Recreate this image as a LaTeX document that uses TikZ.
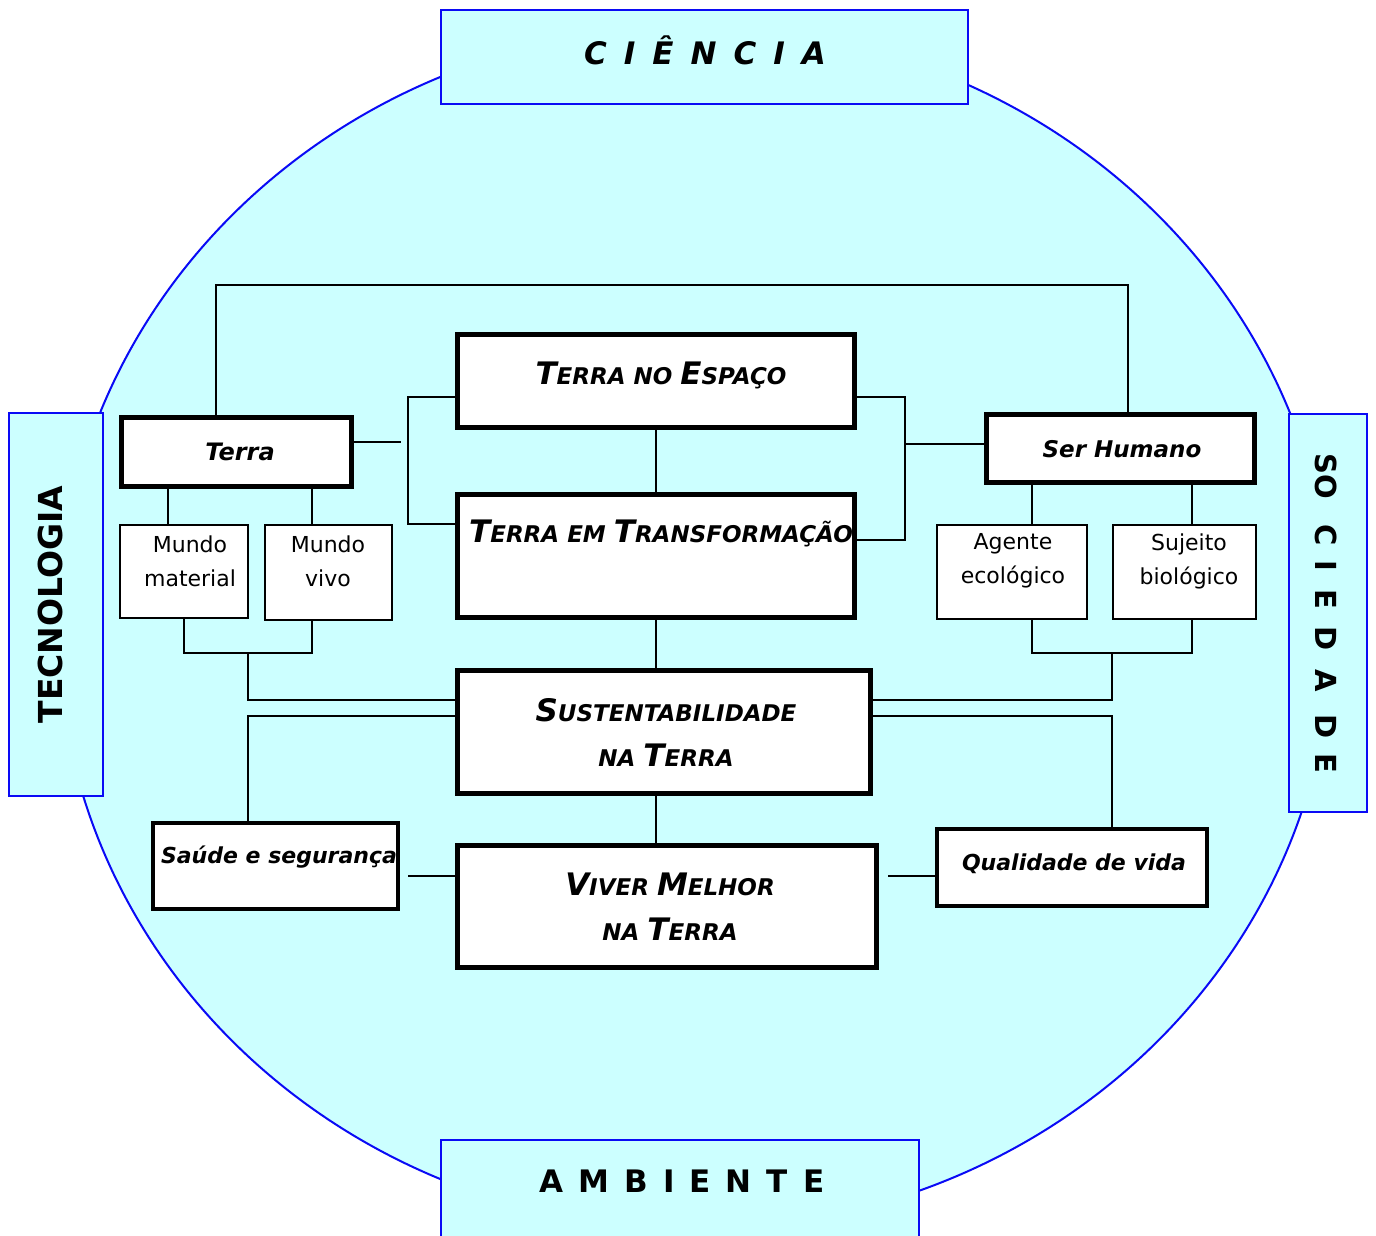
\documentclass[tikz,border=0pt]{standalone}
\usepackage{fontspec}
\setmainfont{DejaVu Sans}[BoldFont={DejaVu Sans Bold},ItalicFont={DejaVu Sans Oblique},BoldItalicFont={DejaVu Sans Bold Oblique}]
\definecolor{cyanfill}{RGB}{204,255,255}
\definecolor{bordblue}{RGB}{10,10,245}
\newcommand\BL[1]{{\fontsize{31pt}{36pt}\selectfont #1}}
\newcommand\SL[1]{{\fontsize{23pt}{26pt}\selectfont #1}}
\newcommand\gp[1]{\hspace{#1}}
\begin{document}
\begin{tikzpicture}[x=1pt,y=-1pt,
  halo/.style={draw=bordblue, fill=cyanfill, line width=2pt, inner sep=0pt},
  heavy/.style={draw=black, fill=white, line width=5pt, inner sep=0pt},
  light/.style={draw=black, fill=white, line width=1.8pt, inner sep=0pt},
  link/.style={draw=black, line width=1.6pt},
  txt/.style={inner sep=0pt, align=center},
  bi/.style={txt, font=\bfseries\itshape},
  bigt/.style={txt, font=\bfseries},
]
\useasboundingbox (0,0) rectangle (1376,1235);
% big circle
\draw[draw=bordblue, fill=cyanfill, line width=2pt] (695,628) ellipse [x radius=637pt, y radius=601pt];

% outer label boxes
\node[halo, minimum width=527pt, minimum height=94pt] (cien) at (704.5,57) {};
\node[halo, minimum width=478pt, minimum height=100pt] (ambi) at (680,1190) {};
\node[halo, minimum width=94pt, minimum height=383pt] (tecn) at (56,604.5) {};
\node[halo, minimum width=78pt, minimum height=398pt] (soci) at (1328,613) {};
\node[bigt, font=\bfseries\itshape\fontsize{31pt}{36pt}\selectfont] (cient) at (705,50)
  {C\gp{17pt}I\gp{17pt}Ê\gp{17pt}N\gp{17pt}C\gp{17pt}I\gp{17pt}A};
\node[bigt, font=\bfseries\fontsize{31pt}{36pt}\selectfont] (ambit) at (682,1181)
  {A\gp{15pt}M\gp{15pt}B\gp{15pt}I\gp{15pt}E\gp{15pt}N\gp{15pt}T\gp{15pt}E};
\node[bigt, font=\bfseries\fontsize{33pt}{36pt}\selectfont, rotate=90] (tecnt) at (50,604.5) {TECNOLOGIA};
\node[bigt, font=\bfseries\fontsize{29pt}{36pt}\selectfont, rotate=-90] (socit) at (1326,613.5)
  {SO\gp{25pt}C\gp{15pt}I\gp{18pt}E\gp{18pt}D\gp{18pt}A\gp{23pt}D\gp{15pt}E};

% coordinates
\coordinate (topL) at (216,285);
\coordinate (topR) at (1128,285);
\coordinate (tr) at (401,442);
\coordinate (lb1) at (408,397);
\coordinate (lb2) at (408,524);
\coordinate (rb1) at (905,397);
\coordinate (rb2) at (905,540);
\coordinate (rbm) at (905,444);
\coordinate (mL1) at (168,500);
\coordinate (mL2) at (312,500);
\coordinate (mR1) at (1032,500);
\coordinate (mR2) at (1192,500);
\coordinate (jL1) at (184,653);
\coordinate (jL2) at (312,653);
\coordinate (jLm) at (248,653);
\coordinate (jLa) at (248,700);
\coordinate (jLb) at (248,716);
\coordinate (jR1) at (1032,653);
\coordinate (jR2) at (1192,653);
\coordinate (jRm) at (1112,653);
\coordinate (jRa) at (1112,700);
\coordinate (jRb) at (1112,716);
\coordinate (sv) at (408,876);
\coordinate (qv) at (888,876);

% boxes
\node[heavy, minimum width=230pt, minimum height=69pt] (terra) at (236.5,452) {};
\node[heavy, minimum width=268pt, minimum height=68pt] (seru) at (1120.5,448.5) {};
\node[heavy, minimum width=397pt, minimum height=93pt] (tne) at (656,381) {};
\node[heavy, minimum width=397pt, minimum height=123pt] (tet) at (656,556) {};
\node[heavy, minimum width=413pt, minimum height=123pt] (sus) at (664,732) {};
\node[heavy, minimum width=419pt, minimum height=122pt] (viv) at (667,906.5) {};
\node[heavy, line width=4pt, minimum width=245pt, minimum height=86pt] (saud) at (275.5,866) {};
\node[heavy, line width=4pt, minimum width=270pt, minimum height=77pt] (qual) at (1072,867.5) {};
\node[light, minimum width=128pt, minimum height=93pt] (mmat) at (184,571.5) {};
\node[light, minimum width=127pt, minimum height=95pt] (mviv) at (328.5,572.5) {};
\node[light, minimum width=150pt, minimum height=94pt] (agen) at (1012,572) {};
\node[light, minimum width=143pt, minimum height=94pt] (suje) at (1184.5,572) {};

% lines
\draw[link] (terra.north -| topL) -- (topL) -- (topR) -- (seru.north -| topR);
\draw[link] (terra.east |- tr) -- (tr);
\draw[link] (tne.west |- lb1) -- (lb1) -- (lb2) -- (tet.west |- lb2);
\draw[link] (tne.east |- rb1) -- (rb1) -- (rb2) -- (tet.east |- rb2);
\draw[link] (rbm) -- (seru.west |- rbm);
\draw[link] (tne.south) -- (tet.north);
\draw[link] (tet.south) -- (sus.north -| tet.south);
\draw[link] (sus.south -| tet.south) -- (viv.north -| tet.south);
\draw[link] (terra.south -| mL1) -- (mmat.north -| mL1);
\draw[link] (terra.south -| mL2) -- (mviv.north -| mL2);
\draw[link] (seru.south -| mR1) -- (agen.north -| mR1);
\draw[link] (seru.south -| mR2) -- (suje.north -| mR2);
\draw[link] (mmat.south -| jL1) -- (jL1) -- (jL2) -- (mviv.south -| jL2);
\draw[link] (jLm) -- (jLa) -- (sus.west |- jLa);
\draw[link] (sus.west |- jLb) -- (jLb) -- (saud.north -| jLb);
\draw[link] (agen.south -| jR1) -- (jR1) -- (jR2) -- (suje.south -| jR2);
\draw[link] (jRm) -- (jRa) -- (sus.east |- jRa);
\draw[link] (sus.east |- jRb) -- (jRb) -- (qual.north -| jRb);
\draw[link] (sv) -- (viv.west |- sv);
\draw[link] (qv) -- (qual.west |- qv);

% texts
\node[bi, font=\bfseries\itshape\fontsize{24pt}{28pt}\selectfont] (terrat) at (240,452) {Terra};
\node[bi, font=\bfseries\itshape\fontsize{23pt}{28pt}\selectfont] (serut) at (1122,449) {Ser Humano};
\node[bi, font=\bfseries\itshape\fontsize{22pt}{28pt}\selectfont] (saudt) at (279,857) {Saúde e segurança};
\node[bi, font=\bfseries\itshape\fontsize{22pt}{28pt}\selectfont] (qualt) at (1074,864) {Qualidade de vida};
\node[bi] (tnet) at (661,375) {\BL{T}\SL{ERRA NO }\BL{E}\SL{SPAÇO}};
\node[bi] (tett) at (661,533) {\BL{T}\SL{ERRA EM }\BL{T}\SL{RANSFORMAÇÃO}};
\node[bi, font=\bfseries\itshape\fontsize{23pt}{45pt}\selectfont] (sust) at (666,732)
  {\BL{S}\SL{USTENTABILIDADE}\\\SL{NA }\BL{T}\SL{ERRA}};
\node[bi, font=\bfseries\itshape\fontsize{23pt}{45pt}\selectfont] (vivt) at (670,907)
  {\BL{V}\SL{IVER }\BL{M}\SL{ELHOR}\\\SL{NA }\BL{T}\SL{ERRA}};
\node[txt, font=\fontsize{22pt}{34pt}\selectfont] (mmatt) at (190,561) {Mundo\\material};
\node[txt, font=\fontsize{22pt}{34pt}\selectfont] (mvivt) at (328,561) {Mundo\\vivo};
\node[txt, font=\fontsize{22pt}{34pt}\selectfont] (agent) at (1013,561) {Agente\\ecológico};
\node[txt, font=\fontsize{22pt}{34pt}\selectfont] (sujet) at (1189,561) {Sujeito\\biológico};
\end{tikzpicture}
\end{document}
